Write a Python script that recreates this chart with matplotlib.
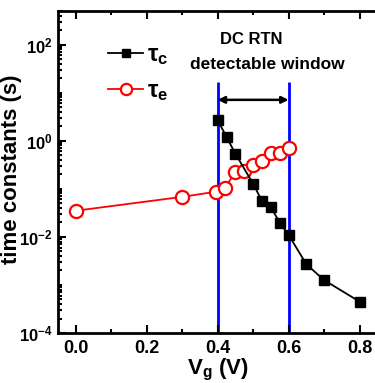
import numpy as np
import matplotlib
matplotlib.use("Agg")
import matplotlib.pyplot as plt
from matplotlib.ticker import LogLocator, MultipleLocator, NullFormatter

plt.rcParams['font.family'] = ['Liberation Sans', 'DejaVu Sans']
plt.rcParams['font.weight'] = 'bold'
plt.rcParams['mathtext.fontset'] = 'custom'
plt.rcParams['mathtext.rm'] = 'Liberation Sans:bold'
plt.rcParams['mathtext.it'] = 'Liberation Sans:bold'
plt.rcParams['mathtext.bf'] = 'Liberation Sans:bold'

# capture time constant (black squares)
vg_c = [0.40, 0.425, 0.45, 0.50, 0.525, 0.55, 0.575, 0.60, 0.65, 0.70, 0.80]
tau_c = [2.7, 1.2, 0.54, 0.127, 0.056, 0.042, 0.0196, 0.011, 0.0027, 0.00126, 0.00045]

# emission time constant (red circles)
vg_e = [0.0, 0.30, 0.395, 0.42, 0.45, 0.475, 0.50, 0.525, 0.55, 0.575, 0.60]
tau_e = [0.035, 0.068, 0.087, 0.105, 0.22, 0.23, 0.32, 0.38, 0.56, 0.56, 0.71]

window = [0.4, 0.6]

fig = plt.figure(figsize=(3.75, 3.83), dpi=100)
ax = fig.add_axes([58/375, 1-333/383, 320/375, 322/383])

ax.vlines(window, 1e-4, 17, colors='#0000ff', lw=2, zorder=1)
ax.plot(vg_c, tau_c, '-s', color='black', ms=7.5, lw=1.3, label=r'$\tau_c$', zorder=3)
ax.plot(vg_e, tau_e, '-o', color='red', mfc='white', mec='red', mew=1.6, ms=9.5, lw=1.3,
        label=r'$\tau_e$', zorder=2)

ax.annotate('', xy=(window[0], 7.1), xytext=(window[1], 7.1),
            arrowprops=dict(arrowstyle='<|-|>', color='black', lw=1.8,
                            mutation_scale=10, shrinkA=0, shrinkB=0))
ax.text(0.495, 127, 'DC RTN', ha='center', va='center', fontsize=12, fontweight='bold')
ax.text(0.54, 38, 'detectable window', ha='center', va='center', fontsize=12.5, fontweight='bold')

ax.set_yscale('log')
ax.set_xlim(-0.05, 0.852)
ax.set_ylim(1e-4, 10**2.7)
ax.xaxis.set_major_locator(MultipleLocator(0.2))
ax.xaxis.set_minor_locator(MultipleLocator(0.1))
ax.xaxis.set_major_formatter(matplotlib.ticker.FormatStrFormatter('%.1f'))
ax.yaxis.set_major_locator(LogLocator(base=100, numticks=10))
ax.yaxis.set_minor_locator(LogLocator(base=10, subs=np.arange(1, 10), numticks=20))
ax.yaxis.set_minor_formatter(NullFormatter())

ax.tick_params(which='both', direction='in', top=True, right=False, width=1.5)
ax.tick_params(axis='x', labelsize=13, pad=5)
ax.tick_params(axis='y', labelsize=12, pad=4)
ax.tick_params(which='major', length=6)
ax.tick_params(which='minor', length=3)
for s in ax.spines.values():
    s.set_linewidth(2)
ax.spines['right'].set_visible(False)

ax.set_ylabel('time constants (s)', fontsize=16, fontweight='bold', labelpad=0)
ax.set_xlabel(r'V$_g$ (V)', fontsize=16, fontweight='bold', labelpad=0)
ax.yaxis.set_label_coords(-0.112, 0.51)

leg = ax.legend(loc='upper left', bbox_to_anchor=(0.09, 0.965), frameon=False,
                fontsize=17, handlelength=1.5, handletextpad=0.15, labelspacing=0.5,
                markerscale=0.85)

fig.savefig('out.png', dpi=100)
